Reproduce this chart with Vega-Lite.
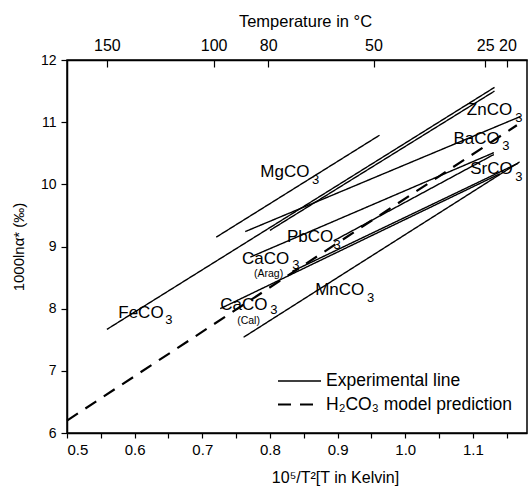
{
  "$schema": "https://vega.github.io/schema/vega-lite/v6.json",
  "width": 460,
  "height": 373,
  "autosize": {"type": "none"},
  "padding": {"left": 67, "top": 60, "right": 1, "bottom": 59},
  "background": "white",
  "config": {
    "font": "Liberation Sans",
    "view": {"stroke": "black", "strokeWidth": 1.5},
    "axis": {
      "grid": false,
      "domainColor": "black",
      "domainWidth": 1.5,
      "tickColor": "black",
      "tickWidth": 1.2,
      "labelColor": "black",
      "titleColor": "black",
      "labelFont": "Liberation Sans",
      "titleFont": "Liberation Sans",
      "titleFontWeight": "normal"
    }
  },
  "datasets": {
    "lines": [
      {"series": "FeCO3", "type": "Experimental line", "x": 0.559, "y": 7.667},
      {"series": "FeCO3", "type": "Experimental line", "x": 1.132, "y": 11.56},
      {"series": "ZnCO3", "type": "Experimental line", "x": 0.8, "y": 9.26},
      {"series": "ZnCO3", "type": "Experimental line", "x": 1.132, "y": 11.5},
      {"series": "MgCO3", "type": "Experimental line", "x": 0.7206, "y": 9.15},
      {"series": "MgCO3", "type": "Experimental line", "x": 0.962, "y": 10.79},
      {"series": "BaCO3", "type": "Experimental line", "x": 0.7635, "y": 9.24},
      {"series": "BaCO3", "type": "Experimental line", "x": 1.17, "y": 11.09},
      {"series": "SrCO3", "type": "Experimental line", "x": 0.771, "y": 8.83},
      {"series": "SrCO3", "type": "Experimental line", "x": 1.131, "y": 10.51},
      {"series": "PbCO3", "type": "Experimental line", "x": 0.894, "y": 9.09},
      {"series": "PbCO3", "type": "Experimental line", "x": 1.131, "y": 10.48},
      {"series": "CaCO3 Arag", "type": "Experimental line", "x": 0.833, "y": 8.6},
      {"series": "CaCO3 Arag", "type": "Experimental line", "x": 1.167, "y": 10.34},
      {"series": "CaCO3 Cal", "type": "Experimental line", "x": 0.7265, "y": 8.0},
      {"series": "CaCO3 Cal", "type": "Experimental line", "x": 1.14, "y": 10.17},
      {"series": "MnCO3", "type": "Experimental line", "x": 0.761, "y": 7.54},
      {"series": "MnCO3", "type": "Experimental line", "x": 1.169, "y": 10.36},
      {"series": "H2CO3", "type": "H₂CO₃ model prediction", "x": 0.5, "y": 6.2},
      {"series": "H2CO3", "type": "H₂CO₃ model prediction", "x": 1.165, "y": 10.95}
    ],
    "labels": [
      {"label": "FeCO", "x": 0.5758, "y": 7.844},
      {"label": "MgCO", "x": 0.7857, "y": 10.116},
      {"label": "ZnCO", "x": 1.091, "y": 11.108},
      {"label": "BaCO", "x": 1.0713, "y": 10.653},
      {"label": "SrCO", "x": 1.096, "y": 10.17},
      {"label": "PbCO", "x": 0.8251, "y": 9.071},
      {"label": "CaCO", "x": 0.7586, "y": 8.723},
      {"label": "CaCO", "x": 0.7265, "y": 7.984},
      {"label": "MnCO", "x": 0.8669, "y": 8.214}
    ],
    "subs": [
      {"label": "3", "x": 0.6453, "y": 7.748},
      {"label": "3", "x": 0.862, "y": 10.01},
      {"label": "3", "x": 1.1625, "y": 11.0},
      {"label": "3", "x": 1.1433, "y": 10.545},
      {"label": "3", "x": 1.1625, "y": 10.06},
      {"label": "3", "x": 0.894, "y": 8.965},
      {"label": "3", "x": 0.833, "y": 8.632},
      {"label": "3", "x": 0.8004, "y": 7.92},
      {"label": "3", "x": 0.9433, "y": 8.106}
    ],
    "notes": [
      {"label": "(Arag)", "x": 0.798, "y": 8.51},
      {"label": "(Cal)", "x": 0.7684, "y": 7.76}
    ]
  },
  "layer": [
    {
      "data": {"name": "lines"},
      "mark": {"type": "line", "color": "black"},
      "encoding": {
        "x": {
          "field": "x", "type": "quantitative",
          "scale": {"domain": [0.5, 1.18], "nice": false, "zero": false},
          "axis": {
            "orient": "bottom",
            "values": [0.5, 0.55, 0.6, 0.65, 0.7, 0.75, 0.8, 0.85, 0.9, 0.95, 1.0, 1.05, 1.1, 1.15],
            "labelExpr": "abs(datum.value * 10 - round(datum.value * 10)) < 0.01 ? format(datum.value, '.1f') : ''",
            "tickSize": 5,
            "labelFontSize": 15,
            "labelPadding": 4,
            "title": "10⁵/T²[T in Kelvin]",
            "titleFontSize": 16,
            "titlePadding": 12,
            "titleX": 268
          }
        },
        "y": {
          "field": "y", "type": "quantitative",
          "scale": {"domain": [6, 12], "nice": false, "zero": false},
          "axis": {
            "values": [6, 6.5, 7, 7.5, 8, 8.5, 9, 9.5, 10, 10.5, 11, 11.5, 12],
            "labelExpr": "datum.value % 1 == 0 ? format(datum.value, 'd') : ''",
            "tickSize": 6,
            "labelFontSize": 14,
            "labelPadding": 5,
            "title": "1000lnα* (‰)",
            "titleFontSize": 15,
            "titlePadding": 14
          }
        },
        "detail": {"field": "series"},
        "strokeWidth": {
          "field": "type", "type": "nominal",
          "scale": {"domain": ["Experimental line", "H₂CO₃ model prediction"], "range": [1.4, 2.2]},
          "legend": null
        },
        "strokeDash": {
          "field": "type", "type": "nominal",
          "scale": {"domain": ["Experimental line", "H₂CO₃ model prediction"], "range": [[1, 0], [13, 9]]},
          "legend": {
            "orient": "none",
            "legendX": 221,
            "legendY": 310,
            "title": null,
            "symbolType": "M-2.15,0H2.15",
            "symbolSize": 400,
            "symbolStrokeWidth": 1.8,
            "symbolStrokeColor": "black",
            "labelFontSize": 17.5,
            "labelFont": "Liberation Sans",
            "labelColor": "black",
            "labelLimit": 400,
            "labelOffset": 15,
            "rowPadding": 3,
            "padding": 0
          }
        }
      }
    },
    {
      "data": {"name": "labels"},
      "mark": {"type": "text", "align": "left", "baseline": "alphabetic", "fontSize": 17, "color": "black"},
      "encoding": {
        "x": {
          "field": "x", "type": "quantitative",
          "scale": {"domain": [0.5, 1.18], "nice": false, "zero": false},
          "axis": {
            "orient": "top",
            "values": [0.559, 0.7167, 0.7975, 0.9531, 1.1182, 1.1511],
            "labelExpr": "datum.value < 0.6 ? '150' : datum.value < 0.75 ? '100' : datum.value < 0.85 ? '80' : datum.value < 1 ? '50' : datum.value < 1.13 ? '25' : '20'",
            "tickSize": -7,
            "labelFontSize": 16,
            "labelPadding": 14,
            "title": "Temperature in °C",
            "titleFontSize": 16.5,
            "titlePadding": 8,
            "titleX": 238
          }
        },
        "y": {"field": "y", "type": "quantitative", "scale": {"domain": [6, 12], "nice": false, "zero": false}},
        "text": {"field": "label"}
      }
    },
    {
      "data": {"name": "subs"},
      "mark": {"type": "text", "align": "left", "baseline": "alphabetic", "fontSize": 13, "color": "black"},
      "encoding": {
        "x": {"field": "x", "type": "quantitative", "scale": {"domain": [0.5, 1.18], "nice": false, "zero": false}, "axis": null},
        "y": {"field": "y", "type": "quantitative", "scale": {"domain": [6, 12], "nice": false, "zero": false}},
        "text": {"field": "label"}
      }
    },
    {
      "data": {"name": "notes"},
      "mark": {"type": "text", "align": "center", "baseline": "alphabetic", "fontSize": 10.5, "color": "black"},
      "encoding": {
        "x": {"field": "x", "type": "quantitative", "scale": {"domain": [0.5, 1.18], "nice": false, "zero": false}, "axis": null},
        "y": {"field": "y", "type": "quantitative", "scale": {"domain": [6, 12], "nice": false, "zero": false}},
        "text": {"field": "label"}
      }
    }
  ],
  "resolve": {"scale": {"x": "independent"}}
}
